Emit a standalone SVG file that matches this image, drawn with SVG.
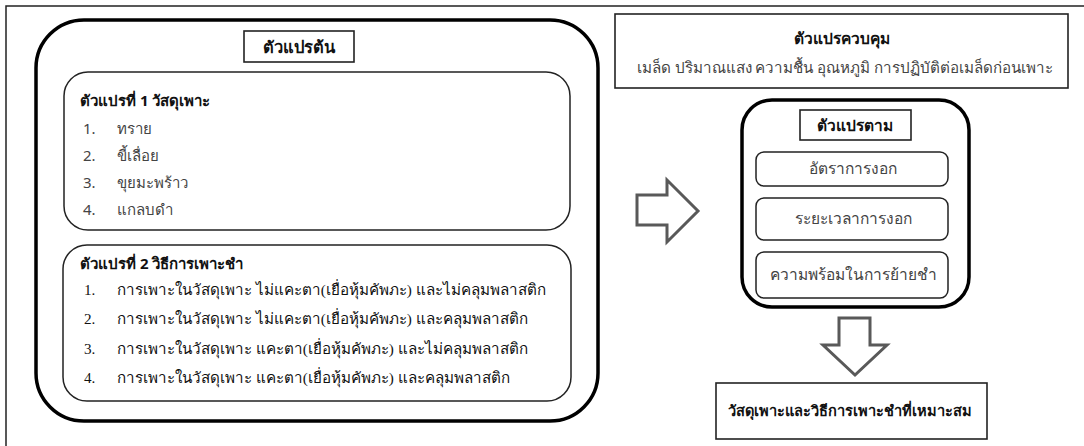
<svg xmlns="http://www.w3.org/2000/svg" width="1084" height="446" viewBox="0 0 1084 446">
<defs>
<style>
.frame{fill:none;stroke:#222;stroke-width:1.5}
.thick{fill:#fff;stroke:#000;stroke-width:3.5}
.thin{fill:#fff;stroke:#222;stroke-width:1.5}
.box{fill:#fff;stroke:#222;stroke-width:1.6}
.arrow{fill:#fff;stroke:#595959;stroke-width:3;stroke-linejoin:miter}
.sans{font-family:"Noto Sans","DejaVu Sans",sans-serif;fill:#444}
.sansb{font-family:"Noto Sans","DejaVu Sans",sans-serif;font-weight:bold;fill:#111}
.serif{font-family:"Liberation Serif","DejaVu Serif",serif;fill:#111}
.serifb{font-family:"Liberation Serif","DejaVu Serif",serif;font-weight:bold;fill:#111}
</style>
</defs>
<rect class="frame" x="6" y="6" width="1100" height="460"/>

<g id="independent">
<rect class="thick" x="36" y="20" width="562" height="401" rx="48" ry="48"/>
<rect class="box" x="244" y="31" width="110" height="31"/>
<text class="sansb" x="299" y="53" font-size="16.5" text-anchor="middle">ตัวแปรต้น</text>
</g>

<g id="var1">
<rect class="thin" x="64" y="72" width="506" height="158" rx="24" ry="24"/>
<text class="sansb" x="80" y="106" font-size="15">ตัวแปรที่ 1 วัสดุเพาะ</text>
<text class="sans" x="83" y="134" font-size="15">1.</text>
<text class="sans" x="117" y="134" font-size="15">ทราย</text>
<text class="sans" x="83" y="161" font-size="15">2.</text>
<text class="sans" x="117" y="161" font-size="15">ขี้เลื่อย</text>
<text class="sans" x="83" y="188" font-size="15">3.</text>
<text class="sans" x="117" y="188" font-size="15">ขุยมะพร้าว</text>
<text class="sans" x="83" y="215" font-size="15">4.</text>
<text class="sans" x="117" y="215" font-size="15">แกลบดำ</text>
</g>

<g id="var2">
<rect class="thin" x="63" y="245" width="508" height="156" rx="24" ry="24"/>
<text class="sansb" x="80" y="269" font-size="15">ตัวแปรที่ 2 วิธีการเพาะชำ</text>
<text class="serif" x="84" y="295" font-size="15.2">1.</text>
<text class="serif" x="117" y="295" font-size="15.2">การเพาะในวัสดุเพาะ ไม่แคะตา(เยื่อหุ้มคัพภะ) และไม่คลุมพลาสติก</text>
<text class="serif" x="84" y="324" font-size="15.2">2.</text>
<text class="serif" x="117" y="324" font-size="15.2">การเพาะในวัสดุเพาะ ไม่แคะตา(เยื่อหุ้มคัพภะ) และคลุมพลาสติก</text>
<text class="serif" x="84" y="354" font-size="15.2">3.</text>
<text class="serif" x="117" y="354" font-size="15.2">การเพาะในวัสดุเพาะ แคะตา(เยื่อหุ้มคัพภะ) และไม่คลุมพลาสติก</text>
<text class="serif" x="84" y="383" font-size="15.2">4.</text>
<text class="serif" x="117" y="383" font-size="15.2">การเพาะในวัสดุเพาะ แคะตา(เยื่อหุ้มคัพภะ) และคลุมพลาสติก</text>
</g>

<g id="control">
<rect class="box" x="615" y="14" width="453" height="74"/>
<text class="sansb" x="842" y="44" font-size="15.5" text-anchor="middle">ตัวแปรควบคุม</text>
<text class="sans" x="845" y="73" font-size="15.2" text-anchor="middle">เมล็ด ปริมาณแสง ความชื้น อุณหภูมิ การปฏิบัติต่อเมล็ดก่อนเพาะ</text>
</g>

<g id="dependent">
<rect class="thick" x="742" y="100" width="227" height="207" rx="30" ry="30"/>
<rect class="box" x="800" y="110" width="111" height="30"/>
<text class="sansb" x="855" y="131" font-size="15.5" text-anchor="middle">ตัวแปรตาม</text>
</g>
<g id="dep1">
<rect class="thin" x="756" y="152" width="192" height="34" rx="8" ry="8"/>
<text class="sans" x="853" y="174" font-size="15.5" text-anchor="middle">อัตราการงอก</text>
</g>
<g id="dep2">
<rect class="thin" x="756" y="198" width="192" height="42" rx="8" ry="8"/>
<text class="sans" x="853" y="224" font-size="15.5" text-anchor="middle">ระยะเวลาการงอก</text>
</g>
<g id="dep3">
<rect class="thin" x="756" y="252" width="192" height="46" rx="8" ry="8"/>
<text class="sans" x="853" y="280" font-size="15.5" text-anchor="middle">ความพร้อมในการย้ายชำ</text>
</g>

<g id="result">
<rect class="box" x="716" y="383" width="271" height="56"/>
<text class="serifb" x="850" y="416" font-size="14.6" text-anchor="middle">วัสดุเพาะและวิธีการเพาะชำที่เหมาะสม</text>
</g>

<g id="connectors">
<polygon class="arrow" points="637,195 667,195 667,180 698,211 667,242 667,225 637,225"/>
<polygon class="arrow" points="839,318 870,318 870,345 887,345 855,375 823,345 839,345"/>
</g>
</svg>
